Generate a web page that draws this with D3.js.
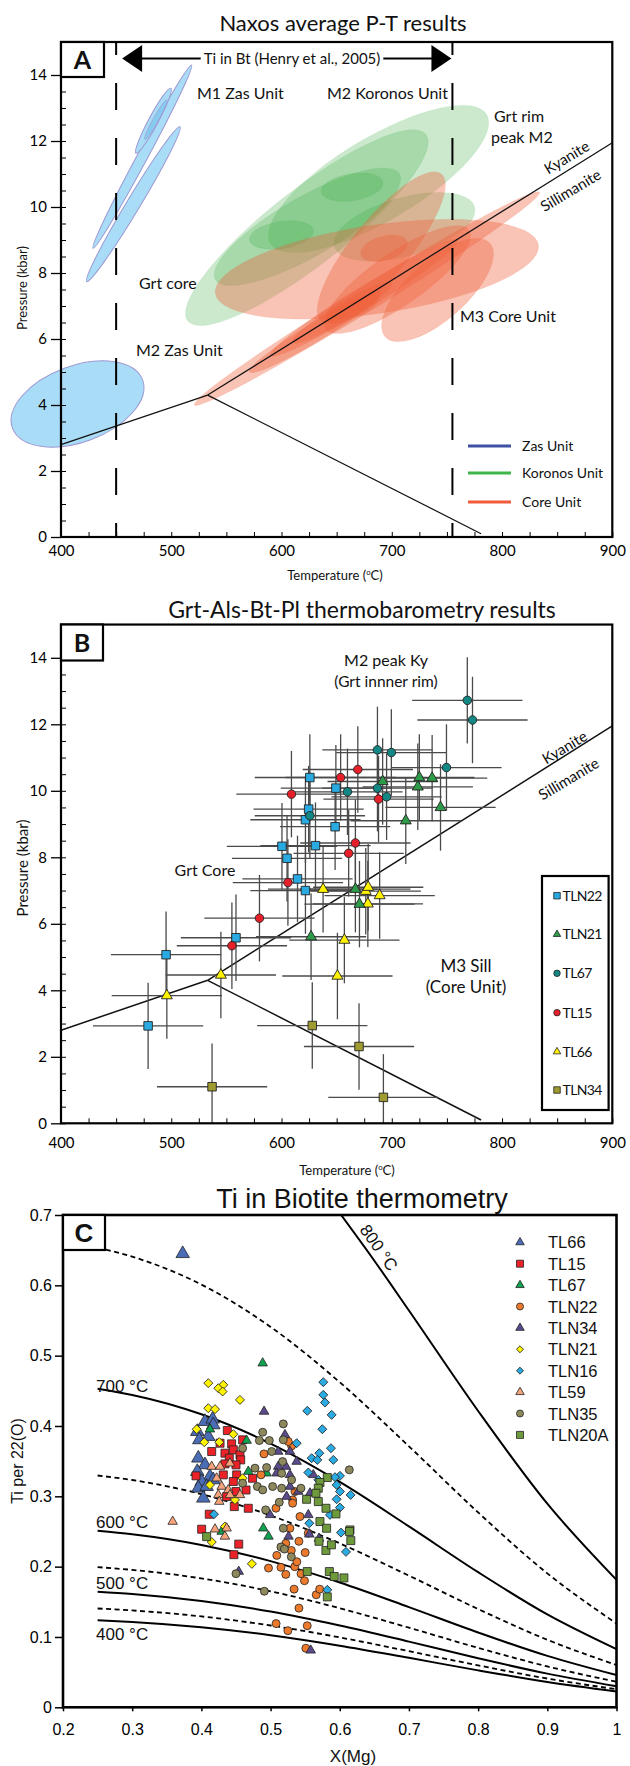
<!DOCTYPE html>
<html><head><meta charset="utf-8">
<script src="https://cdn.jsdelivr.net/npm/d3@7"></script>
<style>body{margin:0;background:#fff}svg{display:block}</style>
</head><body>
<svg id="chart" width="630" height="1766"></svg>
<script>
// ================= DATA =================
// Panel A: ellipses [T1, P1, T2, P2, minor/major ratio] (major-axis end points in data units)
const zasEllipses = [[429,8.75,518.5,14.3,0.05],[423.3,7.74,507.9,12.43,0.075],[468,11.63,499.7,13.6,0.13],[356,3.3,474,4.76,0.55]];
const zasInner = [[476,12.05,496,13.25,0.12]];
const koronosEllipses = [[515,6.55,731,12.2,0.25],[590,8.9,786,12.8,0.33],[540,7.8,707,11.0,0.28],[648,8.8,775,10.0,0.4],[636,10.45,692,10.75,0.43],[571,9.0,629,9.3,0.42]];
const coreEllipses = [[540,7.38,833,8.85,0.27],[636,6.55,745,11.0,0.3],[640,6.3,770,9.3,0.3],[694,6.07,789,8.9,0.42],[521,4.0,834,10.45,0.06],[590,5.5,760,9.0,0.1],[571,5.0,690,7.4,0.12],[610,5.9,700,7.7,0.15],[641,6.55,688,7.25,0.3],[672,8.55,714,8.95,0.5]];
const tiBtRange = [450, 755];
const kySil = [[533,4.3],[900,11.95]];
const kyAnd = [[400,2.8],[533,4.3]];
const andSil = [[533,4.3],[781,0.1]];
const legendA = ["Zas Unit","Koronos Unit","Core Unit"];
const tempTicks = [400,500,600,700,800,900];
const presTicks = [0,2,4,6,8,10,12,14];

// Panel B: [T (°C), P (kbar)]
const tln22B = [[625.7,10.4],[649.3,10.08],[624.6,9.45],[621.7,9.13],[648.6,8.92],[600.4,8.33],[630.8,8.35],[605,7.97],[614.5,7.35],[621.7,7.0],[558.7,5.58],[495.3,5.07],[479,2.93]];
const tln21B = [[725,10.4],[736.6,10.38],[691.7,10.28],[723.6,10.12],[744.2,9.5],[712.7,9.1],[667,7.04],[670.7,6.59],[626.8,5.61]];
const tl67B = [[768.5,12.72],[773.2,12.13],[687,11.23],[699.6,11.15],[749.6,10.7],[659.8,9.97],[687,10.08],[695.3,9.82],[625.7,9.25]];
const tl15B = [[669.2,10.64],[653.6,10.4],[609,9.9],[688,9.75],[667,8.43],[660.9,8.12],[605.8,7.24],[580,6.17],[555,5.34]];
const tl66B = [[637.7,7.04],[676.4,6.98],[678.6,7.1],[689,6.85],[678.3,6.6],[657,5.51],[650.7,4.43],[545,4.46],[496,3.84]];
const tln34B = [[627.9,2.94],[670.3,2.31],[537,1.1],[692.4,0.78]];
const errT = 50, errP = 1.3;

// Panel C: [X(Mg), Ti per 22(O)]
const tl66C = [[0.373,0.645],[0.4052,0.4063],[0.4163,0.4097],[0.3941,0.3921],[0.4172,0.4016],[0.41,0.385],[0.397,0.3803],[0.3956,0.3542],[0.4052,0.3447],[0.3941,0.3352],[0.4124,0.3281],[0.4004,0.321],[0.3956,0.3115],[0.4076,0.3139],[0.4172,0.3234],[0.4028,0.2973]];
const tl15C = [[0.4375,0.3935],[0.4596,0.3803],[0.427,0.3755],[0.4437,0.3746],[0.4149,0.3637],[0.4341,0.3613],[0.4462,0.3661],[0.4558,0.359],[0.4404,0.3542],[0.4568,0.3518],[0.4341,0.3461],[0.45,0.3447],[0.3922,0.3291],[0.4317,0.3305],[0.451,0.3305],[0.4462,0.321],[0.474,0.3257],[0.4645,0.309],[0.4365,0.2996],[0.45,0.3068],[0.4476,0.2854],[0.4678,0.283],[0.4114,0.2745],[0.4004,0.2532],[0.447,0.217],[0.454,0.232]];
const tl67C = [[0.4886,0.4893],[0.4124,0.3954],[0.4654,0.3793],[0.4678,0.3352],[0.4943,0.3328],[0.4895,0.2546],[0.4293,0.2499],[0.497,0.243]];
const tln22C = [[0.4905,0.3603],[0.4862,0.3305],[0.5078,0.2831],[0.5319,0.2949],[0.5353,0.3068],[0.5319,0.2902],[0.5425,0.2712],[0.528,0.2546],[0.5545,0.2475],[0.5304,0.3717],[0.5256,0.3779],[0.551,0.084],[0.553,0.116],[0.525,0.109],[0.508,0.119],[0.541,0.141],[0.534,0.168],[0.549,0.18],[0.566,0.16],[0.571,0.168],[0.544,0.19],[0.535,0.2],[0.538,0.207],[0.522,0.189],[0.515,0.199],[0.497,0.198],[0.509,0.216],[0.53,0.223],[0.522,0.233],[0.541,0.236],[0.55,0.22]];
const tln34C = [[0.4906,0.4206],[0.5208,0.3874],[0.511,0.3637],[0.528,0.3637],[0.5223,0.3423],[0.511,0.3423],[0.5377,0.3494],[0.528,0.3305],[0.528,0.3139],[0.5088,0.3328],[0.4992,0.2736],[0.5546,0.2736],[0.557,0.3044],[0.5618,0.3305],[0.5232,0.2996],[0.54,0.3068],[0.454,0.193],[0.558,0.081],[0.526,0.243],[0.556,0.246],[0.57,0.24]];
const tln21C = [[0.41,0.4609],[0.4317,0.4585],[0.4245,0.4537],[0.4307,0.449],[0.4558,0.4371],[0.41,0.4253],[0.4197,0.4239],[0.3932,0.3954],[0.4042,0.377],[0.4259,0.377],[0.4462,0.3883],[0.4124,0.3162],[0.4596,0.3257],[0.4486,0.2949],[0.434,0.257],[0.415,0.235],[0.473,0.204]];
const tln16C = [[0.5762,0.4623],[0.5762,0.4443],[0.5786,0.4334],[0.5531,0.4215],[0.5883,0.4158],[0.5748,0.3954],[0.5377,0.3755],[0.5873,0.3684],[0.5705,0.3613],[0.5594,0.3542],[0.5676,0.3518],[0.5907,0.3518],[0.5546,0.3338],[0.6003,0.3291],[0.5931,0.3272],[0.569,0.3234],[0.5955,0.3162],[0.6003,0.3068],[0.6157,0.302],[0.5955,0.2958],[0.6003,0.284],[0.5859,0.2736],[0.556,0.2617],[0.4182,0.2745],[0.6018,0.2484],[0.609,0.221],[0.582,0.167]];
const tl59C = [[0.3585,0.2641],[0.4149,0.3423],[0.427,0.3423],[0.4413,0.347],[0.4221,0.3257],[0.4293,0.3139],[0.4389,0.309],[0.4245,0.302],[0.4413,0.302],[0.4558,0.302],[0.4259,0.2925],[0.4365,0.2546],[0.4197,0.2532],[0.434,0.243]];
const tln35C = [[0.5184,0.403],[0.4886,0.3911],[0.4838,0.3793],[0.4982,0.3793],[0.5184,0.3803],[0.5016,0.3637],[0.4596,0.3684],[0.5174,0.3494],[0.4943,0.3409],[0.4775,0.34],[0.516,0.3328],[0.4596,0.3186],[0.4809,0.3139],[0.4886,0.3091],[0.503,0.3139],[0.516,0.3115],[0.5304,0.3234],[0.5439,0.3115],[0.5126,0.2916],[0.4929,0.2807],[0.5184,0.2546],[0.6138,0.3376],[0.45,0.19],[0.491,0.165],[0.515,0.228],[0.52,0.225],[0.53,0.214]];
const tln20aC = [[0.582,0.3267],[0.5714,0.3196],[0.569,0.3115],[0.5656,0.3044],[0.5521,0.2958],[0.569,0.2925],[0.5801,0.283],[0.5945,0.275],[0.5714,0.2641],[0.581,0.2546],[0.6148,0.2522],[0.4076,0.2427],[0.553,0.193],[0.582,0.157],[0.585,0.193],[0.592,0.186],[0.606,0.184],[0.58,0.223],[0.588,0.231],[0.616,0.237],[0.57,0.236],[0.614,0.25]];
// isotherms (Ti vs X(Mg))
const isoX = [0.25,0.3,0.4,0.5,0.6,0.7,0.8,0.9,1.0];
const iso400 = [0.1238,0.1214,0.1139,0.1025,0.0876,0.0703,0.0525,0.0361,0.0226];
const iso450 = [0.1405,0.1377,0.1292,0.1163,0.0994,0.0798,0.0596,0.0409,0.0256];
const iso500 = [0.1644,0.1612,0.1512,0.1361,0.1163,0.0934,0.0697,0.0479,0.0300];
const iso550 = [0.1993,0.1954,0.1833,0.1650,0.1409,0.1132,0.0845,0.0581,0.0364];
const iso600 = [0.2510,0.2461,0.2309,0.2078,0.1775,0.1425,0.1064,0.0731,0.0458];
const iso650 = [0.3296,0.3232,0.3031,0.2728,0.2331,0.1872,0.1397,0.0960,0.0601];
const iso700 = [0.4529,0.4441,0.4166,0.3749,0.3204,0.2572,0.1921,0.1320,0.0826];
const iso750 = [0.6535,0.6407,0.6011,0.5409,0.4622,0.3711,0.2771,0.1904,0.1192];
const iso800X = [0.602,0.65,0.7,0.8,0.9,1.0];
const iso800 = [0.700,0.635,0.5642,0.4213,0.2895,0.1812];
const xmgTicks = [0.2,0.3,0.4,0.5,0.6,0.7,0.8,0.9,1.0];
const tiTicks = [0,0.1,0.2,0.3,0.4,0.5,0.6,0.7];

// ================= DRAWING =================
const FAB = "Lato, 'Open Sans', sans-serif";
const FC = "'Liberation Sans', Arial, sans-serif";
const svg = d3.select('#chart');

function txt(g, x, y, s, size, opts = {}) {
  const t = g.append('text').attr('x', x).attr('y', y).text(s)
    .attr('font-family', opts.font || FAB).attr('font-size', size)
    .attr('text-anchor', opts.anchor || 'start').attr('fill', '#111');
  if (opts.weight) t.attr('font-weight', opts.weight);
  if (opts.rotate !== undefined) t.attr('transform', `rotate(${opts.rotate} ${x} ${y})`);
  if (opts.ls) t.attr('letter-spacing', opts.ls);
  return t;
}
function tempLabel(g, x, y, size) {
  const t = g.append('text').attr('x', x).attr('y', y).attr('font-family', FAB).attr('font-size', size).attr('text-anchor', 'middle').attr('fill', '#111');
  t.append('tspan').text('Temperature (');
  t.append('tspan').text('o').attr('font-size', size * 0.6).attr('dy', -size * 0.35);
  t.append('tspan').text('C)').attr('dy', size * 0.35);
}
function ellipse(g, x, y, e) {
  const [t1, p1, t2, p2, r] = e;
  const x1 = x(t1), y1 = y(p1), x2 = x(t2), y2 = y(p2);
  const cx = (x1 + x2) / 2, cy = (y1 + y2) / 2;
  const rx = Math.hypot(x2 - x1, y2 - y1) / 2, ry = rx * r;
  const a = Math.atan2(y2 - y1, x2 - x1) * 180 / Math.PI;
  return g.append('ellipse').attr('cx', cx).attr('cy', cy).attr('rx', rx).attr('ry', ry)
    .attr('transform', `rotate(${a} ${cx} ${cy})`);
}
function ptAxes(g, x, y, xPad) {
  const x0 = x.range()[0];
  const ya = g.append('g').attr('transform', `translate(${x0},0)`)
    .call(d3.axisLeft(y).tickValues(presTicks).tickSize(10).tickPadding(4));
  ya.select('.domain').remove();
  ya.attr('font-family', FAB).attr('font-size', 15);
  ya.selectAll('line').attr('stroke-width', 1.3);
  const ym = g.append('g').attr('transform', `translate(${x0},0)`)
    .call(d3.axisRight(y).tickValues(d3.range(0, 15.01, 0.5)).tickSize(5).tickFormat(''));
  ym.select('.domain').remove();
  const xa = g.append('g').attr('transform', `translate(0,${y(0)})`)
    .call(d3.axisBottom(x).tickValues(tempTicks).tickSize(0).tickPadding(xPad));
  xa.select('.domain').remove();
  xa.attr('font-family', FAB).attr('font-size', 15);
  const xm = g.append('g').attr('transform', `translate(0,${y(0)})`)
    .call(d3.axisTop(x).tickValues(d3.range(400, 901, 25)).tickSize(5).tickFormat(''));
  xm.select('.domain').remove();
  g.append('rect').attr('x', x.range()[0]).attr('y', y.range()[1])
    .attr('width', x.range()[1] - x.range()[0]).attr('height', y.range()[0] - y.range()[1])
    .attr('fill', 'none').attr('stroke', '#000').attr('stroke-width', 2.2);
}
function reactions(g, x, y, w) {
  const ln = d3.line().x(d => x(d[0])).y(d => y(d[1]));
  [kySil, kyAnd, andSil].forEach(d => g.append('path').attr('d', ln(d)).attr('fill', 'none').attr('stroke', '#111').attr('stroke-width', w));
}
function letterBox(g, x, y, w, h, s, font, size) {
  g.append('rect').attr('x', x).attr('y', y).attr('width', w).attr('height', h).attr('fill', '#fff').attr('stroke', '#000').attr('stroke-width', 2.2);
  txt(g, x + w / 2, y + h / 2 + size * 0.36, s, size, { anchor: 'middle', weight: 'bold', font });
}

// ---------- Panel A ----------
const gA = svg.append('g');
const xA = d3.scaleLinear().domain([400, 900]).range([61, 612.3]);
const yA = d3.scaleLinear().domain([0, 15]).range([537, 42]);
txt(gA, 343, 31, 'Naxos average P-T results', 22, { anchor: 'middle' });

koronosEllipses.forEach(e => ellipse(gA, xA, yA, e).attr('fill', '#44ae4a').attr('fill-opacity', 0.27).attr('stroke', '#44ae4a').attr('stroke-opacity', 0.1));
coreEllipses.forEach(e => ellipse(gA, xA, yA, e).attr('fill', '#f0603c').attr('fill-opacity', 0.38).attr('stroke', '#f0603c').attr('stroke-opacity', 0.1));
zasEllipses.forEach(e => ellipse(gA, xA, yA, e).attr('fill', '#a9dcf6').attr('stroke', '#9d98d2').attr('stroke-width', 1));
zasInner.forEach(e => ellipse(gA, xA, yA, e).attr('fill', '#6fc0ec').attr('fill-opacity', 0.6).attr('stroke', '#9d98d2').attr('stroke-width', 0.6));

reactions(gA, xA, yA, 1.2);
tiBtRange.forEach(t => gA.append('line').attr('x1', xA(t)).attr('x2', xA(t)).attr('y1', yA(15)).attr('y2', yA(0))
  .attr('stroke', '#000').attr('stroke-width', 2).attr('stroke-dasharray', '27,28').attr('stroke-dashoffset', 14));

ptAxes(gA, xA, yA, 8);
letterBox(gA, 61, 42, 43, 35, 'A', FAB, 25);

// arrow
{
  const yArr = 58.5, l = xA(tiBtRange[0]) + 6, r = xA(tiBtRange[1]) - 1;
  gA.append('path').attr('d', `M${l},${yArr}L${l + 20},${yArr - 13.5}L${l + 20},${yArr + 13.5}Z`).attr('fill', '#000');
  gA.append('path').attr('d', `M${r},${yArr}L${r - 20},${yArr - 13.5}L${r - 20},${yArr + 13.5}Z`).attr('fill', '#000');
  const t = txt(gA, 292, yArr + 5, 'Ti in Bt (Henry et al., 2005)', 15, { anchor: 'middle' });
  const w = t.node().getComputedTextLength();
  gA.append('line').attr('x1', l + 18).attr('x2', 292 - w / 2 - 3).attr('y1', yArr).attr('y2', yArr).attr('stroke', '#000').attr('stroke-width', 2);
  gA.append('line').attr('x1', 292 + w / 2 + 3).attr('x2', r - 18).attr('y1', yArr).attr('y2', yArr).attr('stroke', '#000').attr('stroke-width', 2);
}
txt(gA, 197, 98.5, 'M1 Zas Unit', 16);
txt(gA, 327, 98.5, 'M2 Koronos Unit', 16);
txt(gA, 494, 121.5, 'Grt rim', 16);
txt(gA, 491, 142.5, 'peak M2', 16);
txt(gA, 139, 288.5, 'Grt core', 16);
txt(gA, 136, 355.5, 'M2 Zas Unit', 16);
txt(gA, 460, 321.5, 'M3 Core Unit', 16);
txt(gA, 569.5, 162, 'Kyanite', 15, { anchor: 'middle', rotate: -31 });
txt(gA, 573.5, 195, 'Sillimanite', 15, { anchor: 'middle', rotate: -31 });
const legColA = ['#3f51a3', '#3db54a', '#f15a3a'];
legendA.forEach((s, i) => {
  const yy = [446, 473, 502][i];
  gA.append('line').attr('x1', 468).attr('x2', 511).attr('y1', yy).attr('y2', yy).attr('stroke', legColA[i]).attr('stroke-width', 3);
  txt(gA, 522, yy + 5, s, 14);
});
tempLabel(gA, 335, 580, 13);
txt(gA, 27, 288, 'Pressure (kbar)', 13, { anchor: 'middle', rotate: -90 });

// ---------- Panel B ----------
const gB = svg.append('g');
const xB = d3.scaleLinear().domain([400, 900]).range([61, 612.3]);
const yB = d3.scaleLinear().domain([0, 15]).range([1123.3, 624.55]);
txt(gB, 362, 618, 'Grt-Als-Bt-Pl thermobarometry results', 23, { anchor: 'middle' });
reactions(gB, xB, yB, 1.5);
const seriesB = [
  { name: 'TLN22', data: tln22B, shape: 'square', fill: '#29abe2' },
  { name: 'TLN21', data: tln21B, shape: 'triangle', fill: '#2e9b48' },
  { name: 'TL67', data: tl67B, shape: 'circle', fill: '#138783' },
  { name: 'TL15', data: tl15B, shape: 'circle', fill: '#e5202a' },
  { name: 'TL66', data: tl66B, shape: 'triangle', fill: '#fff200' },
  { name: 'TLN34', data: tln34B, shape: 'square', fill: '#9f9b30' }
];
const gErr = gB.append('g').attr('stroke', '#4a4a4a').attr('stroke-width', 1.3);
seriesB.forEach(s => s.data.forEach(d => {
  gErr.append('line').attr('x1', xB(d[0] - errT)).attr('x2', xB(d[0] + errT)).attr('y1', yB(d[1])).attr('y2', yB(d[1]));
  gErr.append('line').attr('x1', xB(d[0])).attr('x2', xB(d[0])).attr('y1', yB(Math.max(0, d[1] - errP))).attr('y2', yB(d[1] + errP));
}));
function symPath(shape, dim) {
  if (shape === 'square') return d3.symbol(d3.symbolSquare, dim * dim)();
  if (shape === 'circle') return d3.symbol(d3.symbolCircle, Math.PI * dim * dim / 4)();
  if (shape === 'triangle') return d3.symbol(d3.symbolTriangle, Math.sqrt(3) / 4 * dim * dim)();
  if (shape === 'diamond') return d3.symbol(d3.symbolSquare, dim * dim / 2)();
}
function drawMarker(g, shape, cx, cy, dim, fill, sw) {
  const p = g.append('path').attr('d', symPath(shape, dim)).attr('fill', fill).attr('stroke', '#222').attr('stroke-width', sw);
  p.attr('transform', `translate(${cx},${cy})` + (shape === 'diamond' ? ' rotate(45)' : ''));
  return p;
}
const dimB = { square: 8.5, circle: 8.5, triangle: 11 };
[seriesB[5], seriesB[0], seriesB[4], seriesB[1], seriesB[3], seriesB[2]].forEach(s => s.data.forEach(d =>
  drawMarker(gB, s.shape, xB(d[0]), yB(d[1]), dimB[s.shape], s.fill, 0.9)));
ptAxes(gB, xB, yB, 14);
letterBox(gB, 61, 624.5, 42, 36, 'B', FAB, 25);
txt(gB, 386, 666, 'M2 peak Ky', 16, { anchor: 'middle' });
txt(gB, 386, 687, '(Grt innner rim)', 15.5, { anchor: 'middle' });
txt(gB, 205, 876, 'Grt Core', 16, { anchor: 'middle' });
txt(gB, 466, 971.5, 'M3 Sill', 17, { anchor: 'middle' });
txt(gB, 466, 992.5, '(Core Unit)', 17, { anchor: 'middle' });
txt(gB, 567.4, 752, 'Kyanite', 15, { anchor: 'middle', rotate: -31 });
txt(gB, 571.5, 783.5, 'Sillimanite', 15, { anchor: 'middle', rotate: -31 });
gB.append('rect').attr('x', 542).attr('y', 876).attr('width', 66.6).attr('height', 234).attr('fill', '#fff').attr('stroke', '#000').attr('stroke-width', 2.2);
const legYB = [895.7, 934.3, 973.3, 1012.7, 1051.7, 1090];
seriesB.forEach((s, i) => {
  drawMarker(gB, s.shape, 557, legYB[i], s.shape === 'triangle' ? 7.5 : 6.5, s.fill, 0.8);
  txt(gB, 562.5, legYB[i] + 5, s.name, 14, { ls: -0.6 });
});
tempLabel(gB, 347, 1175, 13);
txt(gB, 28, 868, 'Pressure (kbar)', 15, { anchor: 'middle', rotate: -90 });

// ---------- Panel C ----------
const gC = svg.append('g');
const xC = d3.scaleLinear().domain([0.2, 1.0]).range([63, 616.5]);
const yC = d3.scaleLinear().domain([0, 0.7]).range([1707.3, 1215]);
txt(gC, 362, 1208, 'Ti in Biotite thermometry', 27, { anchor: 'middle', font: FC });
svg.append('clipPath').attr('id', 'clipC').append('rect').attr('x', 63).attr('y', 1215).attr('width', 553.5).attr('height', 492.3);
const gCurves = gC.append('g').attr('clip-path', 'url(#clipC)');
const lineC = d3.line().x(d => xC(d[0])).y(d => yC(d[1])).curve(d3.curveMonotoneX);
const isoSets = [[iso400, false], [iso450, true], [iso500, false], [iso550, true], [iso600, false], [iso650, true], [iso700, false], [iso750, true]];
isoSets.forEach(([vals, dashed]) => {
  gCurves.append('path').attr('d', lineC(isoX.map((x, i) => [x, vals[i]]))).attr('fill', 'none')
    .attr('stroke', '#000').attr('stroke-width', dashed ? 1.8 : 2).attr('stroke-dasharray', dashed ? '5,3.5' : null);
});
gCurves.append('path').attr('d', lineC(iso800X.map((x, i) => [x, iso800[i]]))).attr('fill', 'none').attr('stroke', '#000').attr('stroke-width', 2);

const seriesC = [
  { name: 'TL66', data: tl66C, shape: 'triangle', fill: '#4a6db5', dim: 13.5 },
  { name: 'TL15', data: tl15C, shape: 'square', fill: '#ec2229', dim: 8 },
  { name: 'TL67', data: tl67C, shape: 'triangle', fill: '#0fa24f', dim: 9.5 },
  { name: 'TLN22', data: tln22C, shape: 'circle', fill: '#ec7a2c', dim: 8 },
  { name: 'TLN34', data: tln34C, shape: 'triangle', fill: '#5b4b8d', dim: 9.5 },
  { name: 'TLN21', data: tln21C, shape: 'diamond', fill: '#fff200', dim: 9 },
  { name: 'TLN16', data: tln16C, shape: 'diamond', fill: '#2babe2', dim: 9 },
  { name: 'TL59', data: tl59C, shape: 'triangle', fill: '#f7a47c', dim: 9.5 },
  { name: 'TLN35', data: tln35C, shape: 'circle', fill: '#8d895c', dim: 8 },
  { name: 'TLN20A', data: tln20aC, shape: 'square', fill: '#6f9a3c', dim: 8 }
];
seriesC.forEach(s => s.data.forEach(d => drawMarker(gC, s.shape, xC(d[0]), yC(d[1]), s.dim, s.fill, 0.8)));

// axes C
const yaC = gC.append('g').attr('transform', `translate(63,0)`)
  .call(d3.axisLeft(yC).tickValues(tiTicks).tickSize(8).tickPadding(3).tickFormat(d => d === 0 ? '0' : d3.format('.1f')(d)));
yaC.select('.domain').remove();
yaC.attr('font-family', FC).attr('font-size', 16);
yaC.selectAll('line').attr('stroke-width', 1.5);
const xaC = gC.append('g').attr('transform', `translate(0,${yC(0)})`)
  .call(d3.axisBottom(xC).tickValues(xmgTicks).tickSize(4).tickPadding(12).tickFormat(d => d === 1 ? '1' : d3.format('.1f')(d)));
xaC.select('.domain').remove();
xaC.attr('font-family', FC).attr('font-size', 16);
xaC.selectAll('line').attr('stroke-width', 1.5);
gC.append('rect').attr('x', 63).attr('y', 1215).attr('width', 553.5).attr('height', 492.3).attr('fill', 'none').attr('stroke', '#000').attr('stroke-width', 2.6);
letterBox(gC, 63, 1215, 42, 35, 'C', FC, 26);

txt(gC, 96, 1392, '700 °C', 17, { font: FC });
txt(gC, 96, 1527.5, '600 °C', 17, { font: FC });
txt(gC, 96, 1589, '500 °C', 17, { font: FC });
txt(gC, 96, 1640, '400 °C', 17, { font: FC });
txt(gC, 374, 1251, '800 °C', 17, { font: FC, anchor: 'middle', rotate: 55 });

const legYC = [1242.3, 1263.7, 1285.1, 1306.5, 1327.9, 1349.3, 1370.7, 1392.1, 1413.5, 1434.9];
seriesC.forEach((s, i) => {
  drawMarker(gC, s.shape, 520, legYC[i], s.shape === 'triangle' ? 8.5 : 7, s.fill, 0.8);
  txt(gC, 548, legYC[i] + 6, s.name, 16.5, { font: FC });
});
txt(gC, 353, 1762, 'X(Mg)', 17, { font: FC, anchor: 'middle' });
txt(gC, 23, 1461, 'Ti per 22(O)', 16, { font: FC, anchor: 'middle', rotate: -90 });
</script>
</body></html>
